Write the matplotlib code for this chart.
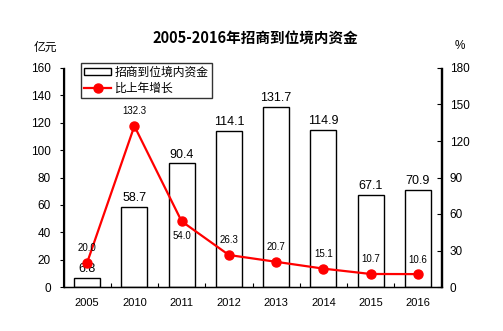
import matplotlib
matplotlib.use('Agg')
import matplotlib.pyplot as plt
import numpy as np
from matplotlib.ticker import FixedLocator

plt.rcParams['font.family'] = ['Liberation Sans', 'Noto Sans CJK SC', 'DejaVu Sans']

years = ['2005', '2010', '2011', '2012', '2013', '2014', '2015', '2016']
funds = [6.8, 58.7, 90.4, 114.1, 131.7, 114.9, 67.1, 70.9]
growth = [20.0, 132.3, 54.0, 26.3, 20.7, 15.1, 10.7, 10.6]
# growth label placement: 1 above the point, -1 below
label_side = [1, 1, -1, 1, 1, 1, 1, 1]


def main():
    fig = plt.figure(figsize=(5.03, 3.31), dpi=100)
    ax = fig.add_axes([63.5 / 503, 44 / 331, (441.5 - 63.5) / 503, (287 - 68) / 331])
    x = np.arange(len(years))

    bars = ax.bar(x, funds, width=0.55, color='white', edgecolor='black',
                  linewidth=1.0, label='招商到位境内资金', zorder=2)
    for xi, v in zip(x, funds):
        ax.text(xi, v + 2, '{:.1f}'.format(v), ha='center', va='bottom', fontsize=9)

    ax.set_xlim(-0.5, len(years) - 0.5)
    ax.set_ylim(0, 160)
    ax.set_yticks(range(0, 161, 20))
    ax.set_xticks(x)
    ax.set_xticklabels(years)
    ax.xaxis.set_minor_locator(FixedLocator(x[:-1] + 0.5))
    ax.tick_params(axis='x', which='major', length=0, pad=8, labelsize=8)
    ax.tick_params(axis='x', which='minor', direction='in', length=3, width=0.8)
    ax.tick_params(axis='y', direction='out', length=3, width=0.8, labelsize=8.5, pad=6)
    ax.spines['top'].set_visible(False)
    for s in ['left', 'bottom', 'right']:
        ax.spines[s].set_linewidth(1.0)

    ax2 = ax.twinx()
    line, = ax2.plot(x, growth, color='#ff0000', linewidth=1.6, marker='o',
                     markersize=6.5, label='比上年增长', zorder=3)
    ax2.set_ylim(0, 180)
    ax2.set_yticks(range(0, 181, 30))
    ax2.tick_params(axis='y', direction='in', length=3, width=0.8, labelsize=8.5, pad=6)
    ax2.spines['top'].set_visible(False)
    ax2.spines['right'].set_linewidth(1.0)
    for xi, v, side in zip(x, growth, label_side):
        ax2.annotate('{:.1f}'.format(v), (xi, v), xytext=(0, 10.5 * side),
                     textcoords='offset points', ha='center', va='center', fontsize=7)

    leg = ax.legend([bars, line], ['招商到位境内资金', '比上年增长'], loc='upper left',
                    bbox_to_anchor=(0.04, 1.035), frameon=True, fancybox=False,
                    edgecolor='black', handlelength=2.3, handleheight=0.5,
                    borderpad=0.25, labelspacing=0.3, handletextpad=0.3,
                    borderaxespad=0.2,
                    prop={'family': ['Noto Sans CJK SC'], 'size': 8.5})
    leg.get_frame().set_linewidth(1.0)

    fig.text(255 / 503, 1 - 38 / 331, '2005-2016年招商到位境内资金', ha='center', va='center',
             fontsize=10.5, fontweight='bold', family=['Noto Sans CJK SC'])
    fig.text(45 / 503, 1 - 47 / 331, '亿元', ha='center', va='center', fontsize=8.5,
             family=['Noto Sans CJK SC'])
    fig.text(460 / 503, 1 - 46 / 331, '%', ha='center', va='center', fontsize=8.5)

    fig.savefig('out.png', dpi=100)


if __name__ == "__main__":
    main()
